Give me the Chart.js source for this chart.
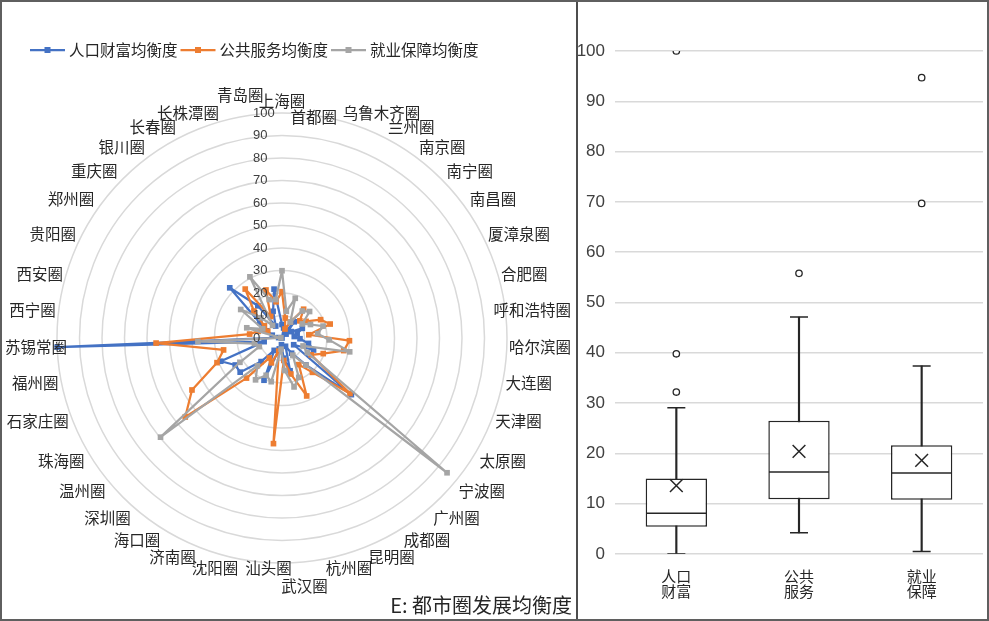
<!DOCTYPE html>
<html lang="zh-CN">
<head>
<meta charset="utf-8">
<title>都市圈发展均衡度</title>
<script src="https://cdn.jsdelivr.net/npm/chart.js@4.4.1/dist/chart.umd.min.js"></script>
<style>
  html, body { margin: 0; padding: 0; background: #fff; }
  #frame { position: relative; width: 989px; height: 621px; overflow: hidden; background: #fff; }
  #radarChart { position: absolute; left: 0; top: 0; }
  #boxChart { position: absolute; left: 578px; top: 0; }
  #divider { position: absolute; left: 576px; top: 0; width: 2px; height: 621px; background: #4d4d4d; }
  #border { position: absolute; left: 0; top: 0; width: 989px; height: 621px; box-sizing: border-box;
            border: 2px solid #5f5f5f; pointer-events: none; }
  #caption { position: absolute; right: 417px; top: 592px; font: 20px/26px "Noto Sans CJK SC", sans-serif;
             color: #262626; white-space: nowrap; }
</style>
</head>
<body>
<div id="frame">
  <canvas id="radarChart" width="576" height="621"></canvas>
  <canvas id="boxChart" width="411" height="621"></canvas>
  <div id="divider"></div>
  <div id="caption">E: 都市圈发展均衡度</div>
  <div id="border"></div>
</div>
<script>
// radar categories, clockwise from the top
const circleNames = ['上海圈', '首都圈', '乌鲁木齐圈', '兰州圈', '南京圈', '南宁圈', '南昌圈', '厦漳泉圈', '合肥圈',
  '呼和浩特圈', '哈尔滨圈', '大连圈', '天津圈', '太原圈', '宁波圈', '广州圈', '成都圈', '昆明圈', '杭州圈', '武汉圈',
  '汕头圈', '沈阳圈', '济南圈', '海口圈', '深圳圈', '温州圈', '珠海圈', '石家庄圈', '福州圈', '苏锡常圈', '西宁圈',
  '西安圈', '贵阳圈', '郑州圈', '重庆圈', '银川圈', '长春圈', '长株潭圈', '青岛圈'];

const wealthBalance = [6, 4.5, 0, 3, 9, 2.5, 5, 10, 7, 5.5, 8, 12, 15, 6, 39.8, 16, 8, 4, 15, 9,
  3, 5, 20.4, 6.5, 14, 24, 24, 29.1, 8.1, 100, 1.5, 4.5, 7.5, 12, 32.2, 17.9, 6, 12.5, 22];
const serviceBalance = [20.6, 9, 4.2, 8, 16, 11, 13, 19, 22.3, 12, 30, 28, 19.6, 15, 39, 20.4, 14, 28, 16.5, 10,
  47.1, 6, 12, 10.5, 23.8, 55.5, 46.2, 30.9, 26.5, 56, 14.5, 11, 7, 9.5, 17.3, 27.2, 10.8, 22.5, 16.3];
const employBalance = [29.9, 12, 18.6, 8, 15, 17, 11, 14, 19, 16, 21, 30.7, 10, 13, 94.7, 16.1, 9, 19, 22.4, 14.5,
  5, 20, 18, 22, 16.5, 69.7, 21.6, 10.8, 12.5, 37.4, 0.5, 16.3, 9.5, 22.3, 13, 7, 30.7, 18, 17.3];

const radarTicks = [0, 10, 20, 30, 40, 50, 60, 70, 80, 90, 100];

// box plot summary per indicator
const boxNames = ['人口财富', '公共服务', '就业保障'];
const boxMin = [0, 4.2, 0.5];
const boxQ1 = [5.4, 10.9, 10.8];
const boxMedian = [8.1, 16.3, 16.1];
const boxQ3 = [15.0, 26.5, 21.6];
const boxMax = [29.1, 47.1, 37.4];
const boxMean = [13.6, 20.4, 18.6];
const boxOutliers = [[32.2, 39.8, 100], [55.8], [69.7, 94.7]];

const CJK = '"Noto Sans CJK SC", "Noto Sans", sans-serif';
const NUM = '"Liberation Sans", Arial, sans-serif';
const INK = '#262626';

// a few ring labels that Excel shifted to avoid their neighbours
const labelNudge = { '首都圈': [-13, 13], '武汉圈': [0, 12], '汕头圈': [9, -6], '青岛圈': [3, -9] };

Chart.defaults.font.family = CJK;
Chart.defaults.animation = false;

function clamp(v, lo, hi) {
  return Math.min(hi, Math.max(lo, v));
}

const radarDecor = {
  id: 'radarDecor',
  afterDraw(chart) {
    const ctx = chart.ctx;
    const r = chart.scales.r;
    ctx.save();

    // value labels along the top axis
    ctx.font = '13px ' + NUM;
    ctx.fillStyle = '#404040';
    ctx.textAlign = 'left';
    ctx.textBaseline = 'middle';
    radarTicks.forEach(v => {
      ctx.fillText(String(v), r.xCenter - 29, r.yCenter - r.getDistanceFromCenterForValue(v));
    });

    // category labels around the ring
    ctx.font = '15.5px ' + CJK;
    ctx.fillStyle = INK;
    ctx.textAlign = 'center';
    chart.data.labels.forEach((name, i) => {
      const a = r.getIndexAngle(i);
      const s = Math.sin(a);
      const c = Math.cos(a);
      const w = ctx.measureText(name).width;
      const p = r.getPointPosition(i, r.drawingArea + 3);
      let x = p.x + Math.sign(s) * (w / 2) * Math.min(1, Math.abs(s) / 0.45);
      x = clamp(x, 5 + w / 2, chart.width - 5 - w / 2);
      const t = clamp((Math.abs(c) - 0.3) / 0.2, 0, 1);
      let y = p.y - Math.sign(c) * 9 * t;
      const nudge = labelNudge[name];
      if (nudge) {
        x += nudge[0];
        y += nudge[1];
      }
      ctx.fillText(name, x, y);
    });

    // legend: line + square marker
    let x = 30;
    const y = 50;
    ctx.textAlign = 'left';
    chart.data.datasets.forEach(ds => {
      ctx.strokeStyle = ds.borderColor;
      ctx.lineWidth = 2.25;
      ctx.beginPath();
      ctx.moveTo(x, y);
      ctx.lineTo(x + 35, y);
      ctx.stroke();
      ctx.fillStyle = ds.borderColor;
      ctx.fillRect(x + 14.5, y - 3, 6, 6);
      ctx.fillStyle = INK;
      ctx.fillText(ds.label, x + 39, y);
      x += 39 + ctx.measureText(ds.label).width + 3;
    });
    ctx.restore();
  }
};

new Chart(document.getElementById('radarChart'), {
  type: 'radar',
  data: {
    labels: circleNames,
    datasets: [
      { label: '人口财富均衡度', data: wealthBalance, borderColor: '#4472C4', backgroundColor: '#4472C4', order: 2 },
      { label: '公共服务均衡度', data: serviceBalance, borderColor: '#ED7D31', backgroundColor: '#ED7D31', order: 1 },
      { label: '就业保障均衡度', data: employBalance, borderColor: '#A5A5A5', backgroundColor: '#A5A5A5', order: 0 }
    ]
  },
  options: {
    responsive: false,
    layout: { padding: { left: 57, right: 69, top: 113, bottom: 58 }, autoPadding: false },
    elements: {
      line: { borderWidth: 2.25, fill: false, tension: 0, borderJoinStyle: 'round', borderCapStyle: 'round' },
      point: { pointStyle: 'rect', radius: 4, borderWidth: 0 }
    },
    plugins: { legend: { display: false }, tooltip: { enabled: false } },
    scales: {
      r: {
        min: 0,
        max: 100,
        ticks: { display: false, stepSize: 10 },
        grid: { circular: true, color: '#d9d9d9', lineWidth: 1.5 },
        angleLines: { display: false },
        pointLabels: { display: false }
      }
    }
  },
  plugins: [radarDecor]
});

const outlierPoints = [];
boxOutliers.forEach((list, i) => list.forEach(v => outlierPoints.push({ x: boxNames[i], y: v })));

new Chart(document.getElementById('boxChart'), {
  type: 'bar',
  data: {
    labels: boxNames,
    datasets: [
      { // whiskers
        data: boxNames.map((_, i) => [boxMin[i], boxMax[i]]),
        backgroundColor: INK, barThickness: 1.5, grouped: false, order: 6
      },
      { // boxes
        data: boxNames.map((_, i) => [boxQ1[i], boxQ3[i]]),
        backgroundColor: '#fff', borderColor: INK, borderWidth: 1.5, borderSkipped: false,
        barPercentage: 0.5, categoryPercentage: 1, grouped: false, order: 5
      },
      { type: 'line', data: boxMedian, showLine: false, pointStyle: 'line', pointRadius: 30,
        borderColor: INK, pointBorderWidth: 1.5, order: 4 },
      { type: 'line', data: boxMin, showLine: false, pointStyle: 'line', pointRadius: 9,
        borderColor: INK, pointBorderWidth: 1.5, order: 3 },
      { type: 'line', data: boxMax, showLine: false, pointStyle: 'line', pointRadius: 9,
        borderColor: INK, pointBorderWidth: 1.5, order: 3 },
      { type: 'line', data: boxMean, showLine: false, pointStyle: 'crossRot', pointRadius: 9,
        borderColor: INK, pointBorderWidth: 1.5, order: 2 },
      { type: 'line', data: outlierPoints, showLine: false, pointStyle: 'circle', pointRadius: 3.2,
        backgroundColor: '#fff', borderColor: INK, pointBorderWidth: 1.3, order: 1 }
    ]
  },
  options: {
    responsive: false,
    layout: { padding: { left: 0, right: 6, top: 51, bottom: 0 }, autoPadding: false },
    plugins: { legend: { display: false }, tooltip: { enabled: false } },
    scales: {
      y: {
        min: 0,
        max: 100,
        ticks: { stepSize: 10, padding: 10, color: '#404040', font: { size: 17, family: NUM } },
        grid: { color: '#d9d9d9', lineWidth: 1.5, drawTicks: false },
        border: { display: false },
        afterFit(scale) { scale.width = 37; }
      },
      x: {
        grid: { display: false, drawTicks: false },
        border: { display: false },
        ticks: {
          padding: 15,
          color: INK,
          font: { size: 15, family: CJK, lineHeight: 1.0 },
          callback(value) {
            const name = this.getLabelForValue(value);
            return [name.slice(0, 2), name.slice(2)];
          }
        },
        afterFit(scale) { scale.height = 67; }
      }
    }
  }
});
</script>
</body>
</html>
